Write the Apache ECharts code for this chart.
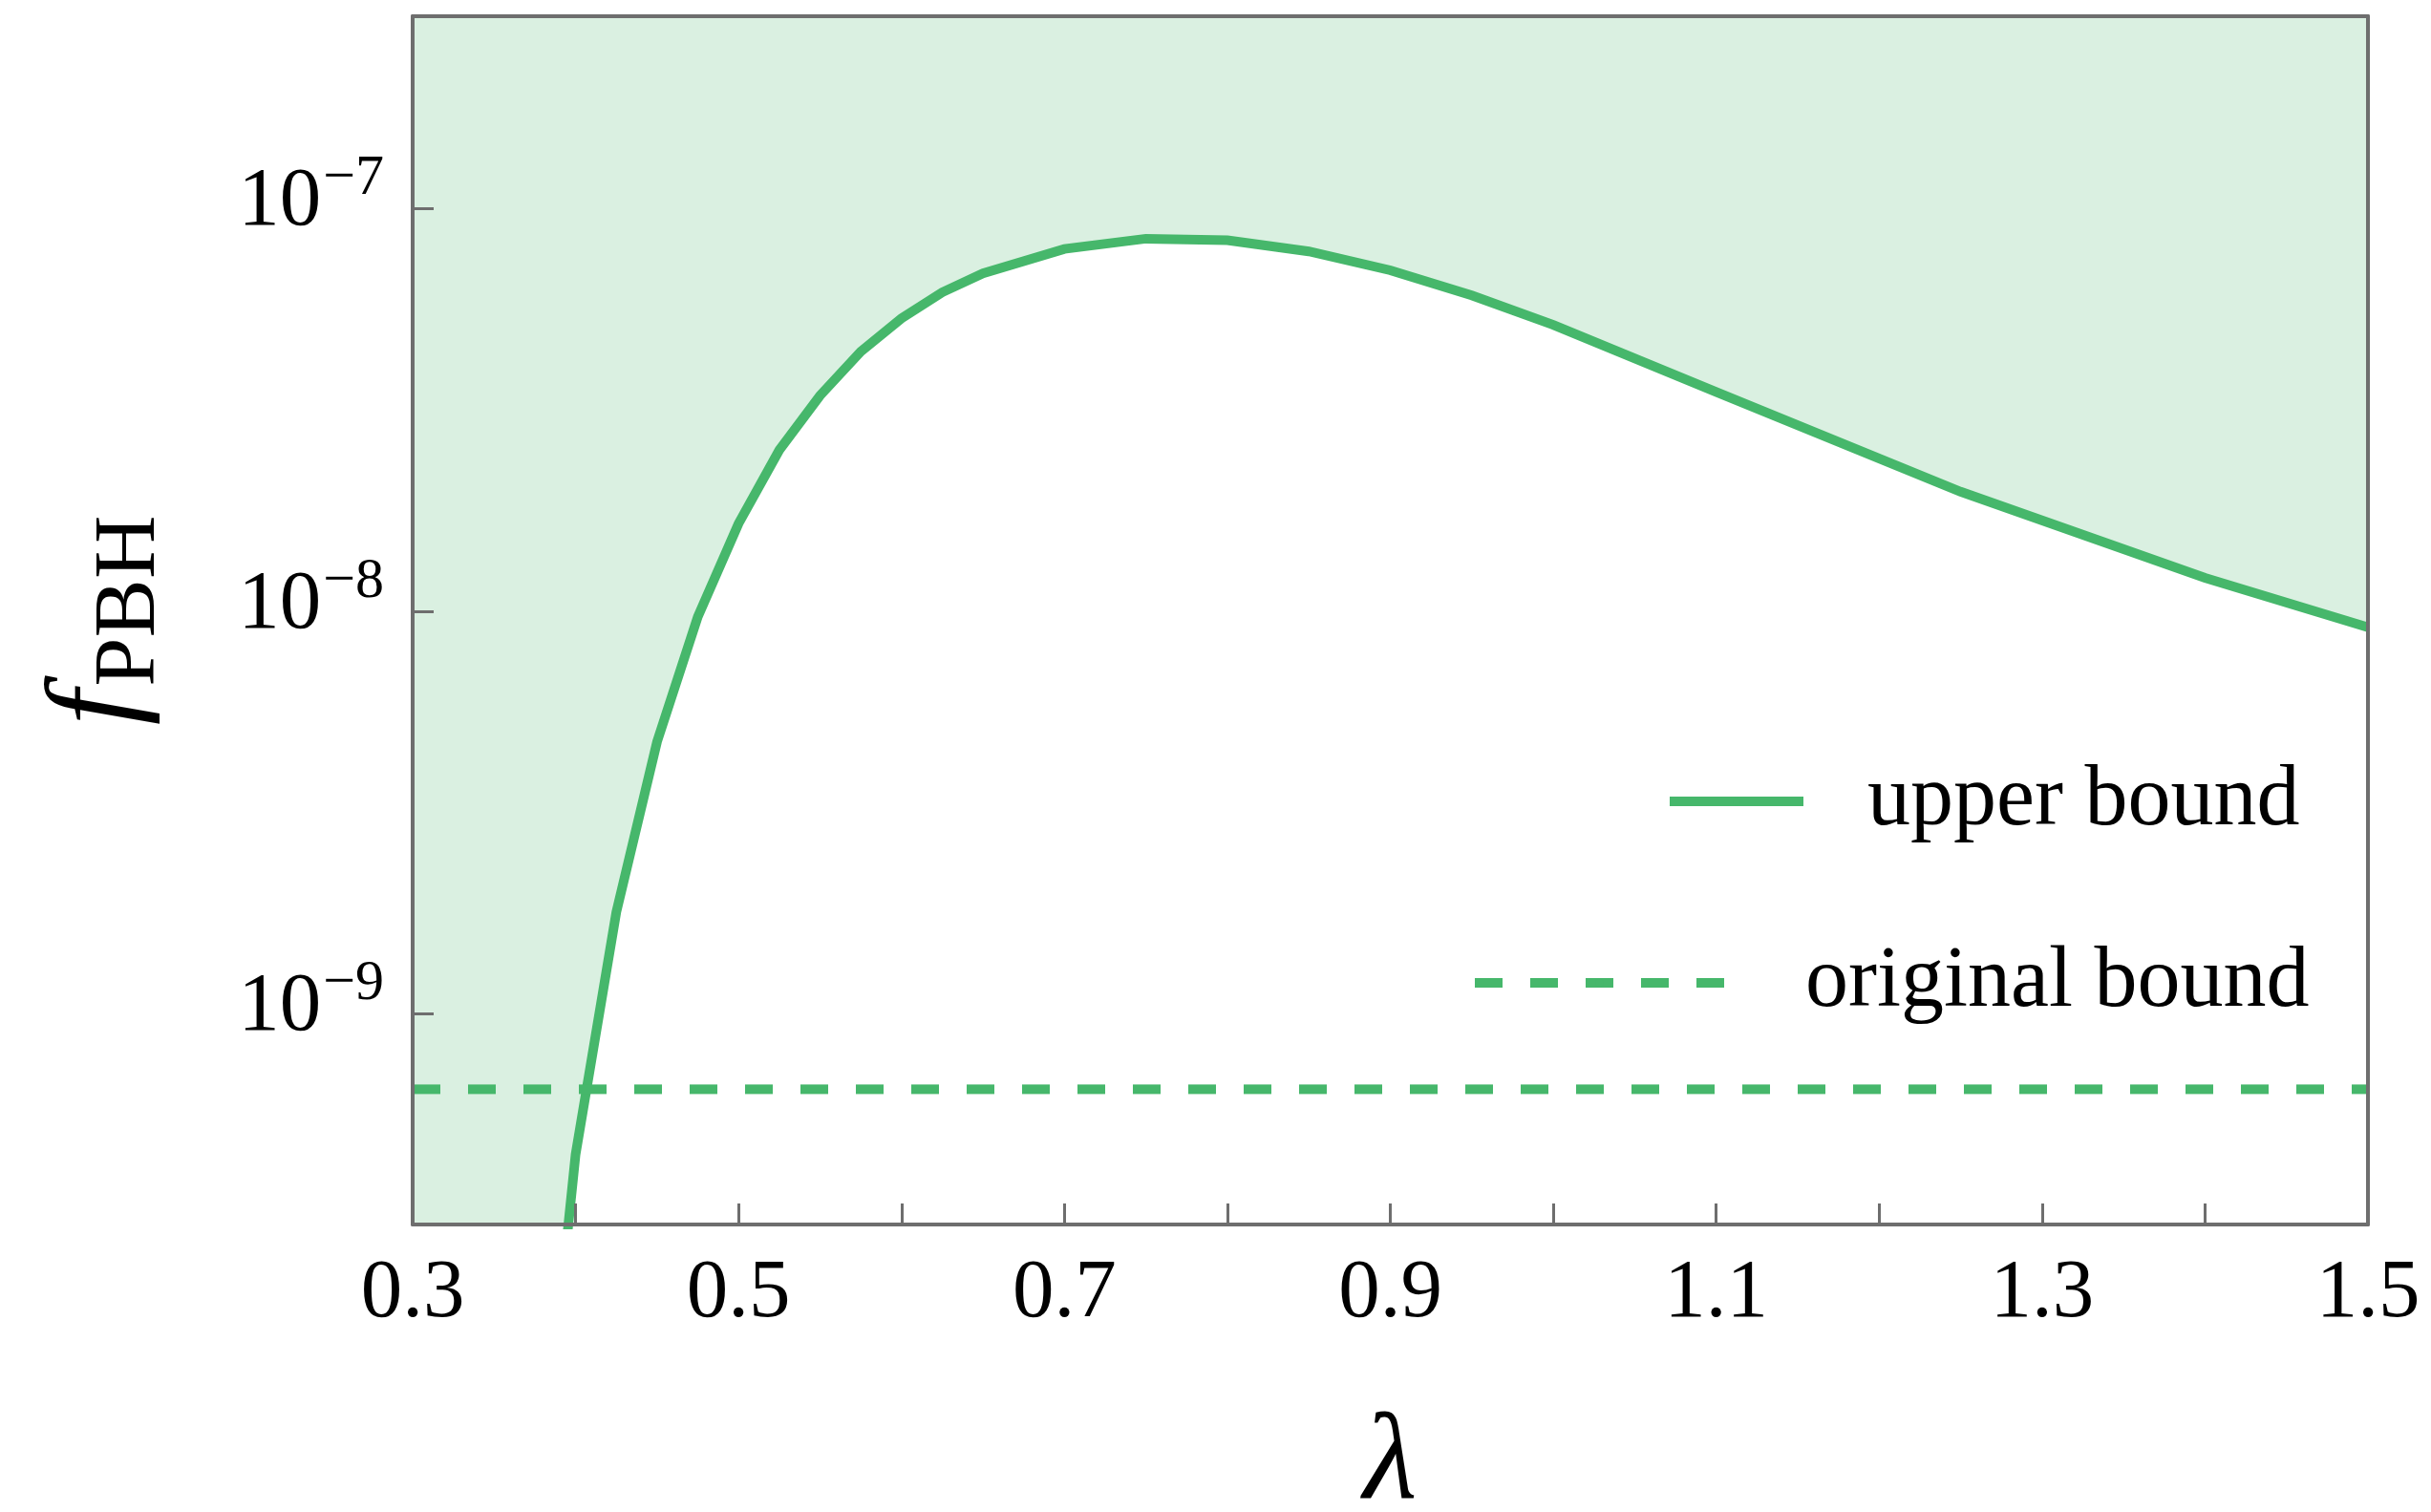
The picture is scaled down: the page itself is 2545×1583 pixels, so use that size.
<!DOCTYPE html>
<html>
<head>
<meta charset="utf-8">
<title>f_PBH upper bound vs lambda</title>
<script src="https://cdn.jsdelivr.net/npm/echarts@6/dist/echarts.min.js"></script>
<style>
  html, body { margin: 0; padding: 0; background: #ffffff; }
  #chart { width: 2545px; height: 1583px; }
</style>
</head>
<body>
<div id="chart"></div>
<script>
// lambda grid of the computed bound
const lambdaValues = [0.375, 0.4, 0.425, 0.45, 0.475, 0.5, 0.525, 0.55, 0.575, 0.6,
  0.625, 0.65, 0.7, 0.75, 0.8, 0.85, 0.9, 0.95, 1.0, 1.1, 1.25, 1.4, 1.5];
// upper bound on f_PBH at each lambda
const upperBound = [4.7e-11, 4.48e-10, 1.79e-9, 4.74e-9, 9.68e-9, 1.65e-8, 2.51e-8, 3.43e-8,
  4.41e-8, 5.33e-8, 6.19e-8, 6.90e-8, 7.93e-8, 8.41e-8, 8.34e-8, 7.82e-8, 7.02e-8,
  6.08e-8, 5.14e-8, 3.50e-8, 1.98e-8, 1.21e-8, 9.12e-9];
// original (constant) bound
const originalBoundLambda = [0.3, 1.5];
const originalBoundValue = 6.5e-10;
// axis ticks
const yTickValues = [1e-9, 1e-8, 1e-7];
const yTickExponents = ['\u22129', '\u22128', '\u22127'];

const GREEN = '#46b76b';
const FILL = '#daf0e1';
const FRAME = '#6e6e6e';
const FONT = "'Liberation Serif', 'DejaVu Serif', serif";

const upperData = lambdaValues.map((l, i) => [l, upperBound[i]]);
const originalData = originalBoundLambda.map(l => [l, originalBoundValue]);

const chart = echarts.init(document.getElementById('chart'), null, { renderer: 'canvas' });

const frameLine = { show: true, lineStyle: { color: FRAME, width: 4 } };

chart.setOption({
  backgroundColor: '#ffffff',
  animation: false,
  grid: {
    left: 432, right: 66, top: 17, bottom: 301,
    outerBoundsMode: 'none',
    containLabel: false,
    show: true, backgroundColor: FILL, borderWidth: 0
  },
  legend: [
    {
      data: ['upper bound'],
      left: 1738, top: 776,
      itemWidth: 140, itemHeight: 10,
      selectedMode: false,
      lineStyle: { width: 10 },
      textStyle: { fontFamily: FONT, fontSize: 90, lineHeight: 90, color: '#000', padding: [26, 0, 0, 62] }
    },
    {
      data: ['original bound'],
      left: 1534, top: 966,
      itemWidth: 261, itemHeight: 10,
      selectedMode: false,
      lineStyle: { width: 10 },
      textStyle: { fontFamily: FONT, fontSize: 90, lineHeight: 90, color: '#000', padding: [26, 0, 0, 80] }
    }
  ],
  xAxis: [
    {
      type: 'value', min: 0.3, max: 1.5, interval: 0.1, z: 10,
      name: '\u03bb', nameLocation: 'middle', nameGap: 188,
      nameTextStyle: { fontFamily: FONT, fontStyle: 'italic', fontSize: 130, lineHeight: 130, color: '#000' },
      axisLine: frameLine,
      axisTick: { show: true, inside: true, length: 22, lineStyle: { color: FRAME, width: 3 } },
      axisLabel: {
        margin: 30, fontFamily: FONT, fontSize: 87, color: '#000',
        formatter: v => (Math.round(v * 10) % 2 === 1 ? v.toFixed(1) : '')
      },
      splitLine: { show: false }
    },
    {
      type: 'value', position: 'top', min: 0.3, max: 1.5, z: 10,
      axisLine: frameLine, axisTick: { show: false }, axisLabel: { show: false }, splitLine: { show: false }
    }
  ],
  yAxis: [
    {
      type: 'log', logBase: 10, min: 3e-10, max: 3e-7, z: 10,
      name: '{f|f}{s|PBH}', nameLocation: 'middle', nameGap: 262,
      nameTextStyle: {
        color: '#000',
        rich: {
          f: { fontFamily: FONT, fontStyle: 'italic', fontSize: 132, lineHeight: 132, color: '#000' },
          s: { fontFamily: FONT, fontSize: 92, lineHeight: 92, padding: [66, 0, 0, 4], color: '#000' }
        }
      },
      axisLine: frameLine,
      axisTick: { show: true, inside: true, length: 22, customValues: yTickValues, lineStyle: { color: FRAME, width: 3 } },
      axisLabel: {
        margin: 30,
        customValues: yTickValues,
        formatter: v => {
          const idx = yTickValues.findIndex(t => Math.abs(Math.log10(t) - Math.log10(v)) < 1e-6);
          return idx < 0 ? '' : '{b|10}{s|' + yTickExponents[idx] + '}';
        },
        rich: {
          b: { fontFamily: FONT, fontSize: 87, lineHeight: 87, padding: [0, 0, 12, 0], color: '#000' },
          s: { fontFamily: FONT, fontSize: 60, lineHeight: 60, padding: [0, 0, 62, 2], color: '#000' }
        }
      },
      splitLine: { show: false }
    },
    {
      type: 'log', logBase: 10, position: 'right', min: 3e-10, max: 3e-7, z: 10,
      axisLine: frameLine, axisTick: { show: false }, axisLabel: { show: false }, splitLine: { show: false }
    }
  ],
  series: [
    {
      name: 'upper bound',
      type: 'line',
      data: upperData,
      symbol: 'none',
      clip: true,
      color: GREEN,
      lineStyle: { color: GREEN, width: 10, join: 'miter' },
      // region below the bound is allowed: paint it white over the shaded grid
      areaStyle: { color: '#ffffff', opacity: 1, origin: 'start' }
    },
    {
      name: 'original bound',
      type: 'line',
      data: originalData,
      symbol: 'none',
      color: GREEN,
      lineStyle: { color: GREEN, width: 10, type: [29, 29] }
    }
  ]
});
</script>
</body>
</html>
